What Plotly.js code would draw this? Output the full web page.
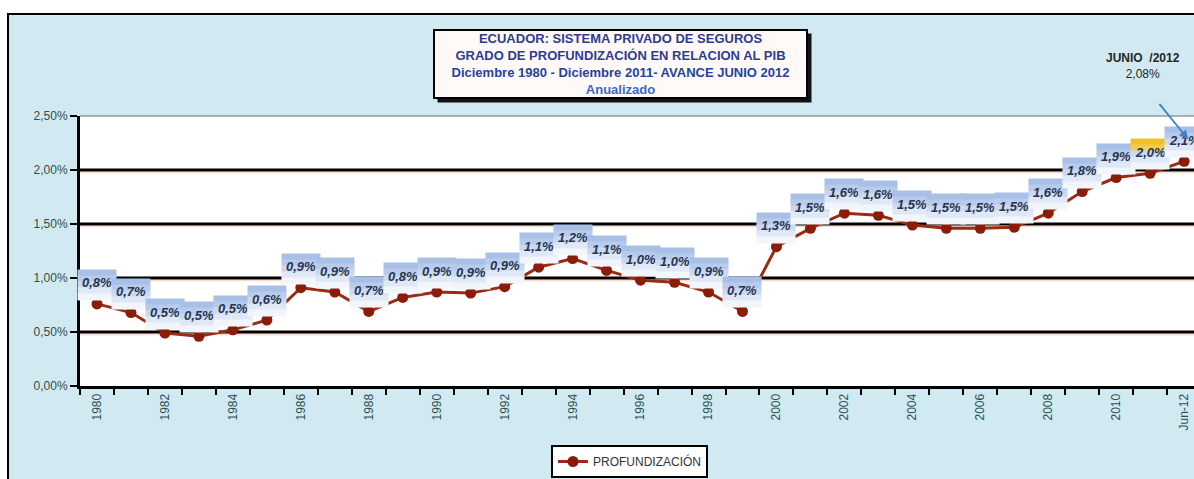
<!DOCTYPE html>
<html>
<head>
<meta charset="utf-8">
<script src="https://cdn.plot.ly/plotly-3.0.1.min.js"></script>
<style>
  html, body { margin: 0; padding: 0; background: #ffffff; }
  #chart { width: 1194px; height: 479px; }
</style>
</head>
<body>
<div id="chart"></div>
<script>
// Years on the category axis (last point is the June 2012 advance)
const categories = ['1980','1981','1982','1983','1984','1985','1986','1987','1988','1989',
                    '1990','1991','1992','1993','1994','1995','1996','1997','1998','1999',
                    '2000','2001','2002','2003','2004','2005','2006','2007','2008','2009',
                    '2010','2011','Jun-12'];

// Insurance premiums as a share of GDP, in percent
const profundizacion = [0.76, 0.68, 0.49, 0.46, 0.52, 0.61, 0.91, 0.87, 0.69, 0.82,
                        0.87, 0.86, 0.92, 1.10, 1.18, 1.07, 0.98, 0.96, 0.87, 0.69,
                        1.29, 1.46, 1.60, 1.58, 1.49, 1.46, 1.46, 1.47, 1.60, 1.80,
                        1.93, 1.97, 2.08];

// Only every other year is labelled on the x axis
const xTickLabels = ['1980','','1982','','1984','','1986','','1988','',
                     '1990','','1992','','1994','','1996','','1998','',
                     '2000','','2002','','2004','','2006','','2008','',
                     '2010','','Jun-12'];

const yTickValues = [0, 0.5, 1, 1.5, 2, 2.5];
const yTickLabels = ['0,00%', '0,50%', '1,00%', '1,50%', '2,00%', '2,50%'];

const FONT = 'Liberation Sans, Arial, sans-serif';
const fmtPct = (v, d) => v.toFixed(d).replace('.', ',') + '%';

// paper-coordinate helpers (plot area: 80..1194 px wide, 116..386 px tall)
const PL = 80, PW = 1114, PB = 386, PH = 270;
const px = x => (x - PL) / PW;
const py = y => (PB - y) / PH;

const annotations = [];

// Title box with drop shadow
const titleX = px(620.5), titleY = py(64);
annotations.push({
  xref: 'paper', yref: 'paper', x: titleX, y: titleY, xanchor: 'center', yanchor: 'middle',
  text: ' ', showarrow: false, width: 371, height: 66, borderpad: 1,
  bgcolor: '#111111', xshift: 4, yshift: -4
});
annotations.push({
  xref: 'paper', yref: 'paper', x: titleX, y: titleY, xanchor: 'center', yanchor: 'middle',
  showarrow: false, width: 369, height: 64, borderpad: 1, borderwidth: 2,
  bordercolor: '#000000', bgcolor: '#fffaf8', align: 'center', valign: 'middle',
  font: { family: FONT, size: 13, weight: 'bold' },
  text: '<span style="color:#2e3c90">ECUADOR: SISTEMA PRIVADO DE SEGUROS</span><br>' +
        '<span style="color:#2e3c90">GRADO DE PROFUNDIZACIÓN EN RELACION AL PIB</span><br>' +
        '<span style="color:#2342a3">Diciembre 1980 - Diciembre 2011- AVANCE JUNIO 2012</span><br>' +
        '<span style="color:#3a66cc">Anualizado</span>'
});

// Call-out for the latest value
const lastIdx = profundizacion.length - 1;
annotations.push({
  xref: 'paper', yref: 'paper', x: px(1143), y: py(66), xanchor: 'center', yanchor: 'middle',
  showarrow: false, align: 'center',
  font: { family: FONT, size: 12, color: '#262626' },
  text: '<b>JUNIO &nbsp;/2012</b><br>' + fmtPct(profundizacion[lastIdx], 2)
});

// Data labels: stacked bands give each box a blue-to-white fade
// (category axes place annotations by category index)
const bandColors = ['#a8c0e6', '#b8cbec', '#cad9f1', '#dee8f6', '#f2f6fb'];
const bandH = 6;
profundizacion.forEach((v, i) => {
  const colors = bandColors.slice();
  if (i === 31) { colors[0] = '#f0c02a'; colors[1] = '#f3cc4e'; }
  colors.forEach((c, k) => {
    annotations.push({
      x: i, y: v, xref: 'x', yref: 'y', xanchor: 'center', yanchor: 'bottom',
      text: ' ', showarrow: false, width: 38, height: bandH, borderpad: 0,
      bgcolor: c, yshift: 3 + (colors.length - 1 - k) * bandH
    });
  });
  annotations.push({
    x: i, y: v, xref: 'x', yref: 'y', xanchor: 'center', yanchor: 'middle',
    text: fmtPct(v, 1), showarrow: false, yshift: 21,
    font: { family: FONT, size: 13, weight: 'bold', style: 'italic', color: '#27344c' }
  });
});

// Arrow from the call-out down to the latest point
annotations.push({
  x: lastIdx, y: profundizacion[lastIdx], xref: 'x', yref: 'y',
  text: '', showarrow: true, axref: 'pixel', ayref: 'pixel', ax: -30, ay: -37,
  xshift: 4, yshift: 22, arrowcolor: '#3f80cc', arrowwidth: 1.8, arrowhead: 2, arrowsize: 1
});

// Frame, plot background and horizontal rules
const shapes = [
  { type: 'rect', xref: 'paper', yref: 'paper', x0: px(8), x1: 1.2, y0: -0.6, y1: py(14),
    fillcolor: '#d1eaf2', line: { color: '#000000', width: 2 }, layer: 'below' },
  { type: 'rect', xref: 'paper', yref: 'paper', x0: 0, x1: 1.1, y0: 0, y1: 1,
    fillcolor: '#ffffff', line: { width: 0 }, layer: 'below' },
  { type: 'line', xref: 'paper', yref: 'paper', x0: 0, x1: 1.1, y0: 1, y1: 1,
    line: { color: '#8c9c9c', width: 1.5 }, layer: 'below' }
];
yTickValues.filter(v => v > 0 && v < 2.5).forEach(v => {
  shapes.push({ type: 'line', xref: 'paper', yref: 'y', ysizemode: 'pixel', yanchor: v,
    x0: 0, x1: 1.1, y0: -2.5, y1: -2.5,
    line: { color: '#f9dccd', width: 1.5 }, layer: 'below' });
  shapes.push({ type: 'line', xref: 'paper', yref: 'y', x0: 0, x1: 1.1, y0: v, y1: v,
    line: { color: '#000000', width: 3 }, layer: 'below' });
});

const trace = {
  type: 'scatter', mode: 'lines+markers', name: 'PROFUNDIZACIÓN',
  x: categories, y: profundizacion,
  line: { color: '#9c2a14', width: 3 },
  marker: { color: '#8a1c08', size: 11 },
  hoverinfo: 'x+y'
};

const layout = {
  width: 1194, height: 479,
  margin: { l: PL, r: 0, t: 116, b: 93, pad: 0 },
  paper_bgcolor: '#ffffff', plot_bgcolor: 'rgba(0,0,0,0)',
  font: { family: FONT, size: 12, color: '#333333' },
  xaxis: {
    type: 'category', range: [-0.5, 32.29], tickson: 'boundaries',
    tickmode: 'array', tickvals: categories, ticktext: xTickLabels, tickangle: -90,
    ticks: 'outside', ticklen: 6, tickwidth: 2, tickcolor: '#000000',
    showline: true, linecolor: '#000000', linewidth: 3, showgrid: false, zeroline: false,
    tickfont: { family: FONT, size: 12, color: '#2a5252' }, automargin: false, fixedrange: true
  },
  yaxis: {
    range: [0, 2.5], tickmode: 'array', tickvals: yTickValues, ticktext: yTickLabels,
    ticks: 'outside', ticklen: 7, tickwidth: 2, tickcolor: '#000000',
    showline: true, linecolor: '#000000', linewidth: 3, showgrid: false, zeroline: false,
    tickfont: { family: FONT, size: 12, color: '#3a4a44' }, automargin: false, fixedrange: true
  },
  showlegend: true,
  legend: {
    xref: 'container', yref: 'container', x: 551 / 1194, y: 1 - 445 / 479,
    xanchor: 'left', yanchor: 'top', orientation: 'h',
    bgcolor: '#ffffff', bordercolor: '#000000', borderwidth: 2,
    font: { family: FONT, size: 12, color: '#333333' }
  },
  shapes: shapes,
  annotations: annotations
};

Plotly.newPlot('chart', [trace], layout, { displayModeBar: false, staticPlot: true });
</script>
</body>
</html>
